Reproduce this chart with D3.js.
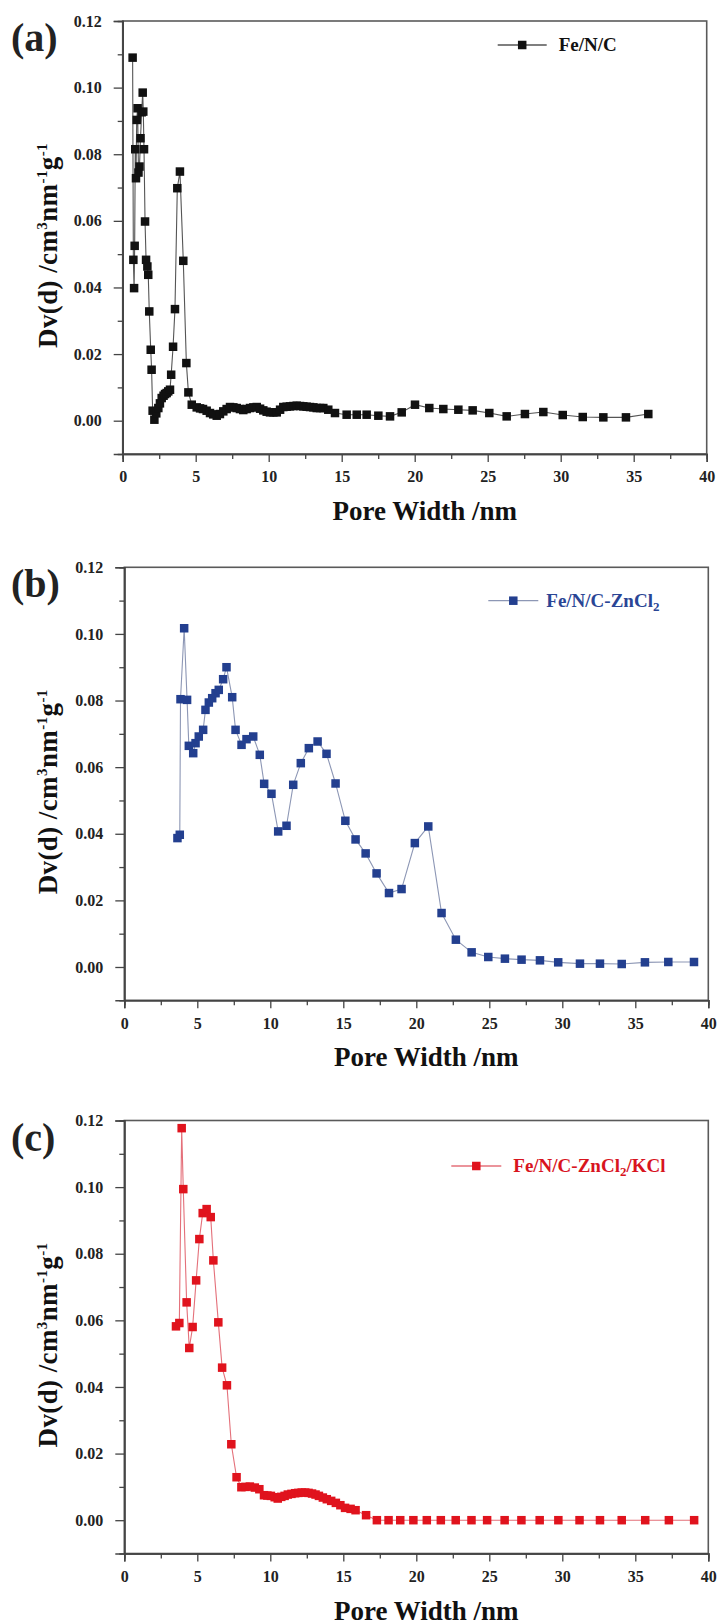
<!DOCTYPE html>
<html>
<head>
<meta charset="utf-8">
<script src="https://cdn.jsdelivr.net/npm/d3@7"></script>
<style>
  html, body { margin: 0; padding: 0; background: #fff; }
  svg { display: block; }
  text { font-family: "Liberation Serif", "Times New Roman", serif; font-weight: bold; }
</style>
</head>
<body>
<script>
// Pore size distributions (DFT), Dv(d) in cm3 nm-1 g-1 versus pore width in nm

const widthA = [0.68,0.73,0.78,0.82,0.86,0.91,0.96,1.02,1.08,1.15,1.22,1.30,1.37,1.41,1.46,1.53,1.60,1.69,1.75,1.82,1.92,1.98,2.05,2.17,2.30,2.44,2.55,2.67,2.80,2.90,3.01,3.12,3.24,3.32,3.45,3.58,3.74,3.92,4.15,4.36,4.50,4.73,5.07,5.30,5.50,5.75,5.98,6.20,6.44,6.66,6.89,7.12,7.35,7.58,7.81,8.03,8.26,8.49,8.72,8.95,9.18,9.41,9.63,9.86,10.09,10.32,10.55,10.78,11.00,11.23,11.46,11.69,11.92,12.15,12.37,12.60,12.83,13.06,13.29,13.52,13.74,14.08,14.54,15.34,16.03,16.71,17.51,18.31,19.11,20.02,21.00,21.96,22.99,23.97,25.11,26.30,27.55,28.81,30.14,31.51,32.92,34.47,36.00];
const dvA = [0.1090,0.0483,0.0398,0.0525,0.0815,0.0728,0.0903,0.0938,0.0745,0.0763,0.0848,0.0926,0.0985,0.0928,0.0815,0.0598,0.0483,0.0463,0.0438,0.0328,0.0213,0.0153,0.0030,0.0003,0.0022,0.0038,0.0052,0.0068,0.0075,0.0080,0.0083,0.0088,0.0093,0.0138,0.0222,0.0335,0.0698,0.0748,0.0480,0.0173,0.0085,0.0048,0.0040,0.0037,0.0035,0.0030,0.0023,0.0019,0.0015,0.0020,0.0028,0.0035,0.0041,0.0040,0.0038,0.0035,0.0032,0.0035,0.0038,0.0040,0.0041,0.0036,0.0031,0.0027,0.0025,0.0025,0.0025,0.0033,0.0041,0.0042,0.0043,0.0044,0.0045,0.0044,0.0043,0.0042,0.0041,0.0040,0.0038,0.0038,0.0038,0.0033,0.0023,0.0018,0.0018,0.0018,0.0015,0.0013,0.0025,0.0048,0.0038,0.0035,0.0033,0.0031,0.0023,0.0013,0.0020,0.0026,0.0017,0.0011,0.0010,0.0010,0.0020];

const widthB = [3.64,3.80,3.85,4.10,4.30,4.42,4.72,4.88,5.10,5.40,5.56,5.79,6.02,6.25,6.47,6.77,7.00,7.39,7.62,8.03,8.37,8.83,9.28,9.58,10.08,10.54,11.11,11.57,12.09,12.64,13.24,13.85,14.47,15.14,15.84,16.53,17.28,18.13,18.99,19.90,20.82,21.73,22.71,23.79,24.93,26.07,27.21,28.47,29.72,31.21,32.58,34.07,35.66,37.26,39.02];
const dvB = [0.0387,0.0397,0.0804,0.1017,0.0802,0.0664,0.0642,0.0672,0.0692,0.0712,0.0772,0.0794,0.0807,0.0822,0.0832,0.0864,0.0900,0.0810,0.0712,0.0667,0.0684,0.0692,0.0637,0.0550,0.0520,0.0407,0.0424,0.0547,0.0612,0.0657,0.0677,0.0640,0.0551,0.0439,0.0383,0.0341,0.0281,0.0222,0.0234,0.0372,0.0422,0.0162,0.0082,0.0044,0.0030,0.0025,0.0022,0.0020,0.0014,0.0010,0.0010,0.0009,0.0014,0.0015,0.0015];

const widthC = [3.54,3.77,3.93,4.04,4.27,4.45,4.68,4.92,5.14,5.37,5.64,5.92,6.10,6.44,6.70,7.03,7.33,7.69,8.02,8.30,8.60,8.94,9.25,9.57,9.80,10.04,10.30,10.51,10.75,10.98,11.20,11.45,11.70,11.92,12.15,12.39,12.62,12.86,13.10,13.33,13.60,13.87,14.17,14.49,14.80,15.12,15.50,15.84,16.56,17.30,18.10,18.90,19.80,20.72,21.68,22.70,23.78,24.85,26.05,27.20,28.45,29.73,31.18,32.58,34.07,35.68,37.30,39.03];
const dvC = [0.0582,0.0592,0.1177,0.0994,0.0654,0.0517,0.0580,0.0720,0.0844,0.0922,0.0934,0.0910,0.0780,0.0594,0.0458,0.0405,0.0228,0.0129,0.0099,0.0100,0.0101,0.0098,0.0093,0.0075,0.0074,0.0073,0.0069,0.0065,0.0070,0.0073,0.0077,0.0079,0.0081,0.0082,0.0083,0.0083,0.0082,0.0080,0.0077,0.0073,0.0068,0.0063,0.0058,0.0052,0.0045,0.0037,0.0034,0.0030,0.0015,0,0,0,0,0,0,0,0,0,0,0,0,0,0,0,0,0,0,0];

const xMajorTicks = [0,5,10,15,20,25,30,35,40];
const xMinorTicks = [2.5,7.5,12.5,17.5,22.5,27.5,32.5,37.5];
const yMajorTicks = [0,0.02,0.04,0.06,0.08,0.10,0.12];
const yMinorTicks = [0.01,0.03,0.05,0.07,0.09,0.11];

const panelTags = ["(a)","(b)","(c)"];
const seriesNames = ["Fe/N/C","Fe/N/C-ZnCl","Fe/N/C-ZnCl"];
const nameSubs = ["","2","2"];
const nameTails = ["","","/KCl"];

const W = 719, H = 1624;
const svg = d3.select("body").append("svg").attr("width", W).attr("height", H);
svg.append("rect").attr("width", W).attr("height", H).attr("fill", "#fff");

const panels = [
  { xs: widthA, ys: dvA, left: 122.7, top: 21,    marker: "#111111", line: "#555555", text: "#111111",
    legend: { x0: 375, x1: 424, tx: 436, dy: 24 } },
  { xs: widthB, ys: dvB, left: 124.3, top: 567.3, marker: "#233f8f", line: "#8d97b5", text: "#2a4595",
    legend: { x0: 364, x1: 414, tx: 422, dy: 33.4 } },
  { xs: widthC, ys: dvC, left: 124.3, top: 1120.5, marker: "#e0131d", line: "#e4707a", text: "#d8141e",
    legend: { x0: 327, x1: 377, tx: 389, dy: 45.5 } }
];
const plotW = 584, plotH = 433;
const ms = 8.5; // square marker size

panels.forEach((p, i) => {
  const g = svg.append("g").attr("transform", `translate(${p.left},${p.top})`);
  const x = d3.scaleLinear().domain([0, 40]).range([0, plotW]);
  const y = d3.scaleLinear().domain([-0.01, 0.12]).range([plotH, 0]);

  // frame
  g.append("rect").attr("width", plotW).attr("height", plotH)
    .attr("fill", "none").attr("stroke", "#5a5a5a").attr("stroke-width", 1.6);

  // axes: major and minor ticks
  const styleAxis = sel => {
    sel.select(".domain").attr("stroke", "#444").attr("stroke-width", 1.6);
    sel.selectAll(".tick line").attr("stroke", "#444").attr("stroke-width", 1.3);
    sel.selectAll(".tick text").attr("fill", "#222").style("font-size", "16px")
      .style("font-family", '"Liberation Serif", serif').style("font-weight", "bold");
  };
  g.append("g").attr("transform", `translate(0,${plotH})`)
    .call(d3.axisBottom(x).tickValues(xMajorTicks).tickSize(8).tickPadding(9).tickFormat(d3.format("d")))
    .call(styleAxis);
  g.append("g").attr("transform", `translate(0,${plotH})`)
    .call(d3.axisBottom(x).tickValues(xMinorTicks).tickSize(5).tickFormat(""))
    .call(styleAxis);
  g.append("g")
    .call(d3.axisLeft(y).tickValues(yMajorTicks).tickSize(9).tickPadding(12).tickFormat(d3.format(".2f")))
    .call(styleAxis);
  g.append("g")
    .call(d3.axisLeft(y).tickValues(yMinorTicks).tickSize(5).tickFormat(""))
    .call(styleAxis);

  // data line + square markers
  const pts = p.xs.map((v, k) => [v, p.ys[k]]);
  g.append("path").datum(pts)
    .attr("fill", "none").attr("stroke", p.line).attr("stroke-width", 1.1)
    .attr("d", d3.line().x(d => x(d[0])).y(d => y(d[1])));
  g.selectAll("rect.pt").data(pts).enter().append("rect").attr("class", "pt")
    .attr("x", d => x(d[0]) - ms / 2).attr("y", d => y(d[1]) - ms / 2)
    .attr("width", ms).attr("height", ms).attr("fill", p.marker);

  // legend
  const L = p.legend;
  g.append("line").attr("x1", L.x0).attr("x2", L.x1).attr("y1", L.dy).attr("y2", L.dy)
    .attr("stroke", p.line).attr("stroke-width", 1.3);
  g.append("rect").attr("x", (L.x0 + L.x1) / 2 - ms / 2).attr("y", L.dy - ms / 2)
    .attr("width", ms).attr("height", ms).attr("fill", p.marker);
  const lt = g.append("text").attr("x", L.tx).attr("y", L.dy + 6)
    .attr("fill", p.text).style("font-size", "19px");
  lt.append("tspan").text(seriesNames[i]);
  if (nameSubs[i]) {
    lt.append("tspan").attr("dy", 4).style("font-size", "13px").text(nameSubs[i]);
    lt.append("tspan").attr("dy", -4).text(nameTails[i]);
  }

  // panel tag
  svg.append("text").attr("x", 11).attr("y", p.top + 30)
    .style("font-size", "40px").attr("fill", "#222").text(panelTags[i]);

  // x axis title
  g.append("text").attr("x", plotW / 2 + 10).attr("y", plotH + 66)
    .attr("text-anchor", "middle").style("font-size", "27px").attr("fill", "#111")
    .text("Pore Width /nm");

  // y axis title
  const yt = svg.append("text")
    .attr("transform", `translate(57,${p.top + plotH / 2 + 8}) rotate(-90)`)
    .attr("text-anchor", "middle").style("font-size", "27px").style("letter-spacing", "0.4px")
    .attr("fill", "#111");
  yt.append("tspan").text("Dv(d) /cm");
  yt.append("tspan").attr("dy", -10).style("font-size", "15px").text("3");
  yt.append("tspan").attr("dy", 10).text("nm");
  yt.append("tspan").attr("dy", -10).style("font-size", "15px").text("-1");
  yt.append("tspan").attr("dy", 10).text("g");
  yt.append("tspan").attr("dy", -10).style("font-size", "15px").text("-1");
});
</script>
</body>
</html>
